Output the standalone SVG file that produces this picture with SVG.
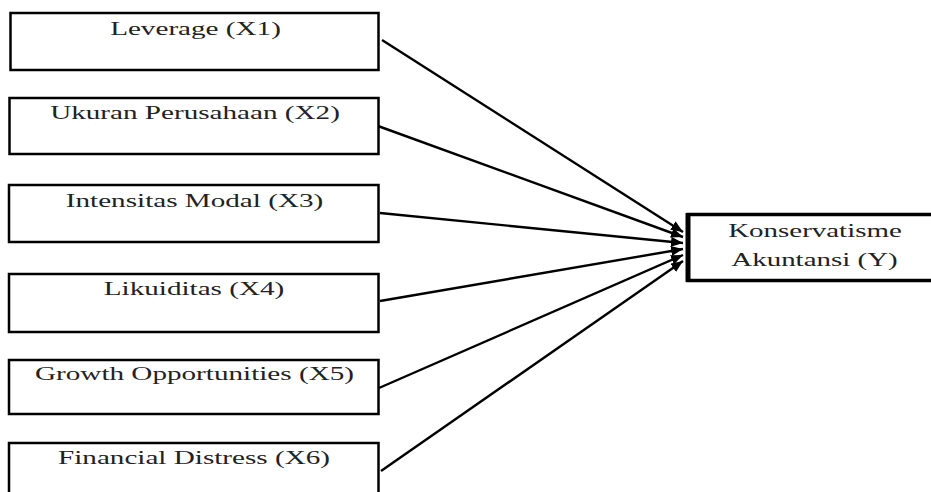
<svg xmlns="http://www.w3.org/2000/svg" width="931" height="492" viewBox="0 0 931 492">
<style>
.box{fill:#fff;stroke:#000;stroke-width:2.5}
.tbox{fill:#fff;stroke:#000;stroke-width:3.5}
.lbl{font-family:"Liberation Serif","Times New Roman",serif;font-size:18px;fill:#222;text-anchor:middle}
.conn{stroke:#000;stroke-width:2.4;fill:none;marker-end:url(#ah)}
</style>
<defs>
<marker id="ah" markerUnits="userSpaceOnUse" markerWidth="13" markerHeight="10" refX="12" refY="5" orient="auto">
<path d="M0,0 L12,5 L0,10 Z" fill="#000"/>
</marker>
</defs>
<rect width="931" height="492" fill="#fff"/>
<g id="connectors">
<line class="conn" x1="382" y1="40" x2="683" y2="232"/>
<line class="conn" x1="378" y1="126" x2="683" y2="237"/>
<line class="conn" x1="380" y1="213" x2="683" y2="243"/>
<line class="conn" x1="380" y1="301" x2="683" y2="249"/>
<line class="conn" x1="379" y1="388" x2="683" y2="255"/>
<line class="conn" x1="381" y1="471" x2="683" y2="261"/>
</g>
<g id="x1">
<rect class="box" x="10.5" y="13" width="368" height="57"/>
<text class="lbl" transform="matrix(1.62,0,0,1,195.5,35)">Leverage (X1)</text>
</g>
<g id="x2">
<rect class="box" x="9.5" y="98" width="369" height="56"/>
<text class="lbl" transform="matrix(1.62,0,0,1,195,119)">Ukuran Perusahaan (X2)</text>
</g>
<g id="x3">
<rect class="box" x="9" y="185" width="369.5" height="57"/>
<text class="lbl" transform="matrix(1.62,0,0,1,194.5,207)">Intensitas Modal (X3)</text>
</g>
<g id="x4">
<rect class="box" x="9" y="274" width="369.5" height="58"/>
<text class="lbl" transform="matrix(1.62,0,0,1,194,295)">Likuiditas (X4)</text>
</g>
<g id="x5">
<rect class="box" x="9" y="360" width="369.5" height="54"/>
<text class="lbl" transform="matrix(1.62,0,0,1,194.5,380)">Growth Opportunities (X5)</text>
</g>
<g id="x6">
<rect class="box" x="9" y="443" width="369.5" height="60"/>
<text class="lbl" transform="matrix(1.62,0,0,1,194,464)">Financial Distress (X6)</text>
</g>
<g id="y">
<rect class="tbox" x="688" y="214.5" width="260" height="66"/>
<line x1="688" y1="213" x2="688" y2="282" stroke="#000" stroke-width="5"/>
<text class="lbl" transform="matrix(1.61,0,0,1,815,237)">Konservatisme</text>
<text class="lbl" transform="matrix(1.61,0,0,1,814.5,266)">Akuntansi (Y)</text>
</g>
</svg>
